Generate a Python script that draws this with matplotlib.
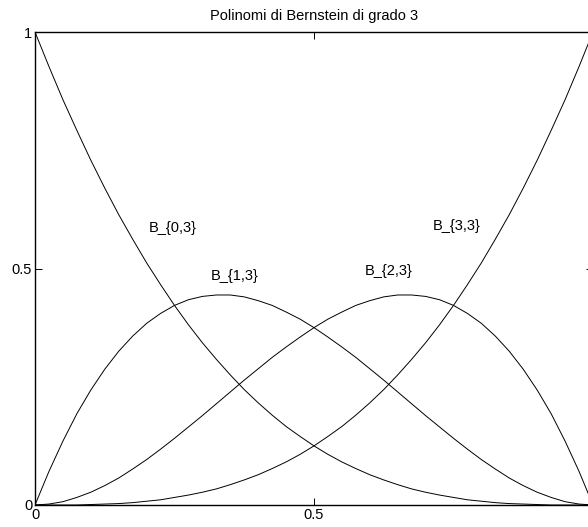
import numpy as np
import matplotlib.pyplot as plt

plt.rcParams['font.family'] = ['Liberation Sans', 'DejaVu Sans']

# values, x step 0.025
t = np.linspace(0, 1, 41)
b03 = [1.0, 0.927, 0.857, 0.792, 0.729, 0.670, 0.614, 0.562, 0.512, 0.466,
       0.422, 0.381, 0.343, 0.308, 0.275, 0.244, 0.216, 0.190, 0.166, 0.145,
       0.125, 0.107, 0.091, 0.077, 0.064, 0.053, 0.043, 0.034, 0.027, 0.021,
       0.016, 0.011, 0.008, 0.005, 0.003, 0.002, 0.001, 0.0, 0.0, 0.0, 0.0]
b13 = [0.0, 0.071, 0.135, 0.193, 0.243, 0.287, 0.325, 0.357, 0.384, 0.405,
       0.422, 0.434, 0.441, 0.444, 0.444, 0.440, 0.432, 0.422, 0.408, 0.393,
       0.375, 0.355, 0.334, 0.312, 0.288, 0.264, 0.239, 0.214, 0.189, 0.165,
       0.141, 0.118, 0.096, 0.076, 0.057, 0.041, 0.027, 0.016, 0.007, 0.002, 0.0]
b23 = b13[::-1]
b33 = b03[::-1]
curves = [b03, b13, b23, b33]
labels = ['B_{0,3}', 'B_{1,3}', 'B_{2,3}', 'B_{3,3}']
label_pos = [(0.203, 0.586), (0.315, 0.484), (0.591, 0.495), (0.713, 0.59)]

fig = plt.figure(figsize=(5.88, 5.27), dpi=100)
ax = fig.add_axes([35/588, 22/527, 558/588, 473/527])

for y in curves:
    ax.plot(t, y, color='black', lw=0.7)
for lab, (x, y) in zip(labels, label_pos):
    ax.text(x, y, lab, fontsize=10.5, va='center', ha='left')

ax.set_xlim(0, 1)
ax.set_ylim(0, 1)
ax.set_xticks([0, 0.5])
ax.set_xticklabels(['0', '0.5'])
ax.set_yticks([0, 0.5, 1])
ax.set_yticklabels(['0', '0.5', '1'])
ax.tick_params(direction='in', top=True, right=True, length=5, width=0.7,
               labelsize=10.5, pad=2)
for s in ax.spines.values():
    s.set_linewidth(1)
ax.set_title('Polinomi di Bernstein di grado 3', fontsize=10.5, pad=8.5)

fig.savefig('out.png', dpi=100)
